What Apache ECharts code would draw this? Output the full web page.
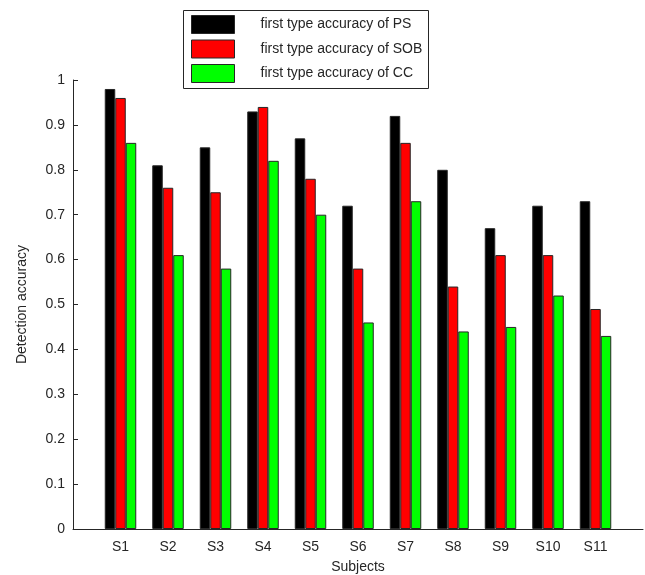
<!DOCTYPE html>
<html><head><meta charset="utf-8">
<script src="https://cdn.jsdelivr.net/npm/echarts@6/dist/echarts.min.js"></script>
<style>html,body{margin:0;padding:0;background:#fff}#c{width:645px;height:575px}</style>
</head><body><div id="c"></div>
<script>
var categories = ['', 'S1','S2','S3','S4','S5','S6','S7','S8','S9','S10','S11', ''];
var seriesNames = ['first type accuracy of PS','first type accuracy of SOB','first type accuracy of CC'];
var ps  = [null, 0.98, 0.81, 0.85, 0.93, 0.87, 0.72, 0.92, 0.80, 0.67, 0.72, 0.73, null];
var sob = [null, 0.96, 0.76, 0.75, 0.94, 0.78, 0.58, 0.86, 0.54, 0.61, 0.61, 0.49, null];
var cc  = [null, 0.86, 0.61, 0.58, 0.82, 0.70, 0.46, 0.73, 0.44, 0.45, 0.52, 0.43, null];
var colors = ['#000000', '#ff0000', '#00ff00'];

var font = 'Arial, "Liberation Sans", sans-serif';
var txt = '#262626';
var chart = echarts.init(document.getElementById('c'), null, {renderer: 'canvas'});
function bar(name, data, color) {
  return {
    name: name, type: 'bar', data: data, barWidth: 10.5, barGap: '0%',
    itemStyle: {color: color, borderColor: '#262626', borderWidth: 1},
    animation: false
  };
}
chart.setOption({
  animation: false,
  backgroundColor: '#fff',
  grid: {left: 73, right: 2, top: 80, bottom: 46, containLabel: false, outerBoundsMode: 'none'},
  graphic: [{type: 'rect', shape: {x: 183.5, y: 10.5, width: 245, height: 78},
    style: {fill: '#fff', stroke: '#262626', lineWidth: 1}, z: 0}],
  legend: {
    orient: 'vertical', left: 191, top: 15, itemWidth: 43, itemHeight: 18, itemGap: 5.5,
    icon: 'rect', padding: 0, z: 10,
    textStyle: {fontFamily: font, fontSize: 14, color: txt, padding: [0, 0, 0, 21]},
    data: seriesNames,
    itemStyle: {borderColor: '#262626', borderWidth: 1}
  },
  xAxis: {
    type: 'category', data: categories, boundaryGap: false,
    name: 'Subjects', nameLocation: 'middle', nameGap: 31,
    nameTextStyle: {fontFamily: font, fontSize: 14, color: txt},
    axisLine: {lineStyle: {color: '#262626', width: 1}},
    axisTick: {show: false},
    axisLabel: {interval: 0, fontFamily: font, fontSize: 14, color: txt, margin: 11},
    splitLine: {show: false}
  },
  yAxis: {
    type: 'value', min: 0, max: 1, interval: 0.1,
    name: 'Detection accuracy', nameLocation: 'middle', nameGap: 44, nameRotate: 90,
    nameTextStyle: {fontFamily: font, fontSize: 14, color: txt},
    axisLine: {show: true, lineStyle: {color: '#262626', width: 1}},
    axisTick: {show: true, inside: true, length: 5, lineStyle: {color: '#262626'}},
    axisLabel: {fontFamily: font, fontSize: 14, color: txt, margin: 8},
    splitLine: {show: false}
  },
  series: [bar(seriesNames[0], ps, colors[0]), bar(seriesNames[1], sob, colors[1]), bar(seriesNames[2], cc, colors[2])]
});
</script></body></html>
